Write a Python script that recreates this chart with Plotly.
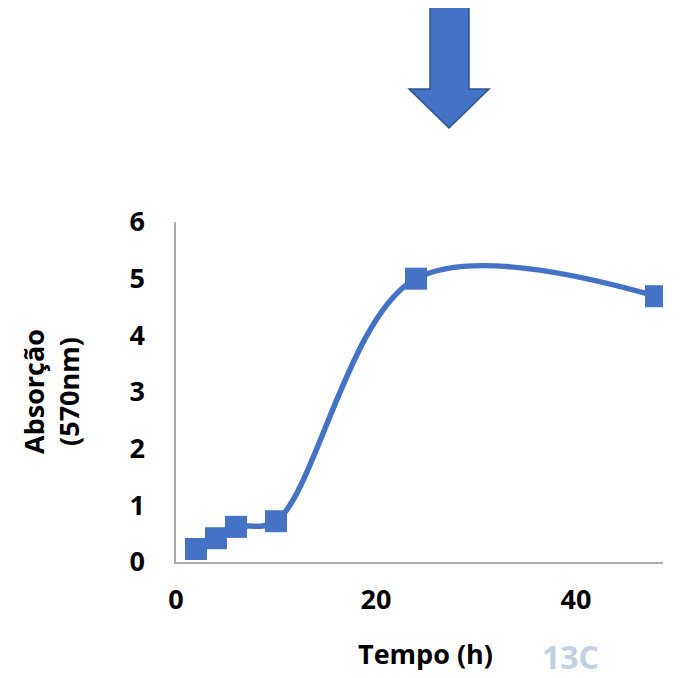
import plotly.graph_objects as go

# Data
tempo_h = [2, 4, 6, 10, 24, 48]
absorcao = [0.23, 0.42, 0.62, 0.72, 5.0, 4.69]
x_ticks = [0, 20, 40]
y_ticks = [0, 1, 2, 3, 4, 5, 6]

# page offset of the plot div (default body margin)
OFF = 8
W, H = 693 - OFF, 678 - OFF
ML, MT = 176 - OFF, 222 - OFF
PW, PH = 487, 340
MR, MB = W - ML - PW, H - MT - PH

def px(x):
    return (x - OFF - ML) / PW

def py(y):
    return (MT + PH - (y - OFF)) / PH

BLUE = "#4472C4"
FONT = "Open Sans"

fig = go.Figure()
fig.add_trace(go.Scatter(
    x=tempo_h, y=absorcao, mode="lines+markers",
    line=dict(color=BLUE, width=5.5, shape="spline", smoothing=1.0),
    marker=dict(symbol="square", size=22, color=BLUE),
    showlegend=False, hoverinfo="x+y",
))

# Block arrow (decoration)
arrow_pts = [(430, 5), (469, 5), (469, 89), (489, 89), (449, 128), (409, 89), (430, 89)]
path = "M " + " L ".join(f"{px(a):.5f},{py(b):.5f}" for a, b in arrow_pts) + " Z"
fig.add_shape(type="path", xref="paper", yref="paper", path=path,
              fillcolor=BLUE, line=dict(color="#2F528F", width=1.5), layer="above")

fig.update_layout(
    width=W, height=H, autosize=False,
    margin=dict(l=ML, r=MR, t=MT, b=MB),
    paper_bgcolor="white", plot_bgcolor="white",
    font=dict(family=FONT, color="black"),
    xaxis=dict(range=[0, 48.7], tickvals=x_ticks, showgrid=False, zeroline=False,
               showline=True, linecolor="#ABABAB", linewidth=1.5,
               tickfont=dict(family=FONT, size=27, weight="bold", color="black"),
               ticks="", ticklabelstandoff=13),
    yaxis=dict(range=[0, 6], tickvals=y_ticks, showgrid=False, zeroline=False,
               showline=True, linecolor="#ABABAB", linewidth=1.5,
               tickfont=dict(family=FONT, size=27, weight="bold", color="black"),
               ticks="", ticklabelstandoff=24),
    annotations=[
        dict(text="Tempo (h)", xref="paper", yref="paper", x=px(425), y=py(653),
             xanchor="center", yanchor="middle", showarrow=False,
             font=dict(family=FONT, size=27, weight="bold", color="black")),
        dict(text="Absorção<br>(570nm)", xref="paper", yref="paper", x=px(51), y=py(392),
             xanchor="center", yanchor="middle", showarrow=False, textangle=-90,
             font=dict(family=FONT, size=27, weight="bold", color="black")),
        dict(text="13C", xref="paper", yref="paper", x=px(540), y=py(680),
             xanchor="left", yanchor="bottom", showarrow=False,
             font=dict(family=FONT, size=32, weight="bold", color="#BFD0E2")),
    ],
)

fig.write_html("out.html")
